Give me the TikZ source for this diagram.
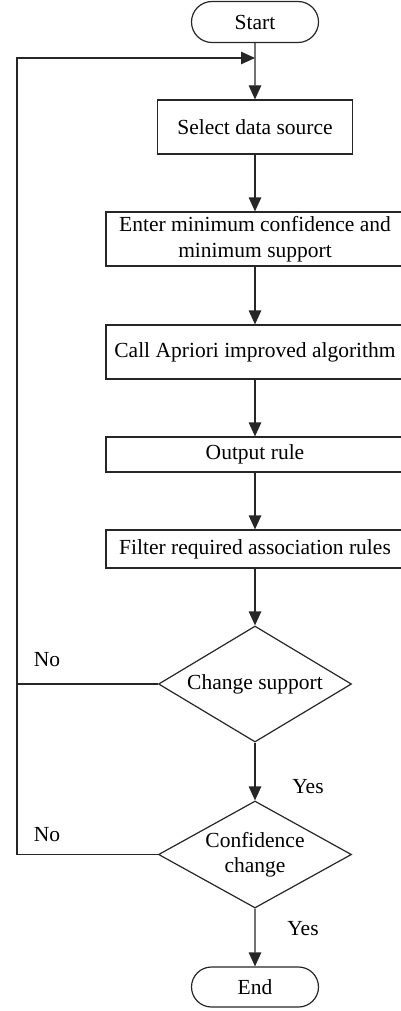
\documentclass[tikz,border=0pt]{standalone}
\usepackage{fontspec}
\setmainfont{Liberation Serif}
\usetikzlibrary{shapes.geometric,shapes.misc,arrows.meta}

\tikzset{
  every node/.style={font=\fontsize{21.5}{25.5}\selectfont},
  flowline/.style={line width=1.2pt, draw=black!85},
  arrowline/.style={flowline, -{Triangle[length=14pt,width=12.5pt]}},
  terminal/.style={draw=black!85, line width=1.2pt, rounded rectangle,
    minimum width=127pt, minimum height=41pt, inner sep=0pt},
  stepbox/.style={draw=black!85, line width=1.2pt, rectangle, inner sep=0pt,
    align=center},
  decision/.style={draw=black!85, line width=1.2pt, diamond, inner sep=0pt,
    aspect=1.66, align=center},
  tag/.style={inner sep=0pt}
}

\begin{document}
\begin{tikzpicture}[x=1pt,y=-1pt]
  \useasboundingbox (0,0) rectangle (401,1011);
  \clip (0,0) rectangle (401,1011);

  % process chain
  \node[terminal] (start) at (255,22) {Start};
  \node[stepbox, minimum width=195pt, minimum height=54pt] (select) at (255,127) {Select data source};
  \node[stepbox, minimum width=298pt, minimum height=54pt] (enter) at (255,239)
    {Enter minimum confidence and\\minimum support};
  \node[stepbox, minimum width=298pt, minimum height=54pt] (call) at (255,352) {Call Apriori improved algorithm};
  \node[stepbox, minimum width=298pt, minimum height=35pt] (output) at (255,454.5) {Output rule};
  \node[stepbox, minimum width=298pt, minimum height=38pt] (filter) at (255,549) {Filter required association rules};
  \node[decision, minimum width=193pt, minimum height=116pt] (cs) at (255,684) {Change support};
  \node[decision, minimum width=193pt, minimum height=107pt] (cc) at (255,854.5) {Confidence\\change};
  \node[terminal, minimum height=40pt] (end) at (255,987) {End};

  % branch labels
  \node[tag] (no1) at (47,660) {No};
  \node[tag] (no2) at (47,835) {No};
  \node[tag] (yes1) at (308,787) {Yes};
  \node[tag] (yes2) at (303,929) {Yes};

  % loop-back helpers
  \coordinate (join) at (255,58);
  \coordinate (rail) at (17,58);
  \coordinate (railcs) at (17,684);
  \coordinate (railcc) at (17,854.5);

  % main flow
  \draw[arrowline] (start) -- (select);
  \draw[arrowline] (select) -- (enter);
  \draw[arrowline] (enter) -- (call);
  \draw[arrowline] (call) -- (output);
  \draw[arrowline] (output) -- (filter);
  \draw[arrowline] (filter) -- (cs);
  \draw[arrowline] (cs) -- (cc);
  \draw[arrowline] (cc) -- (end);

  % "No" branches back to the top
  \draw[flowline] (cs.west) -- (railcs);
  \draw[arrowline] (cc.west) -- (railcc) -- (rail) -- (join);
\end{tikzpicture}
\end{document}
